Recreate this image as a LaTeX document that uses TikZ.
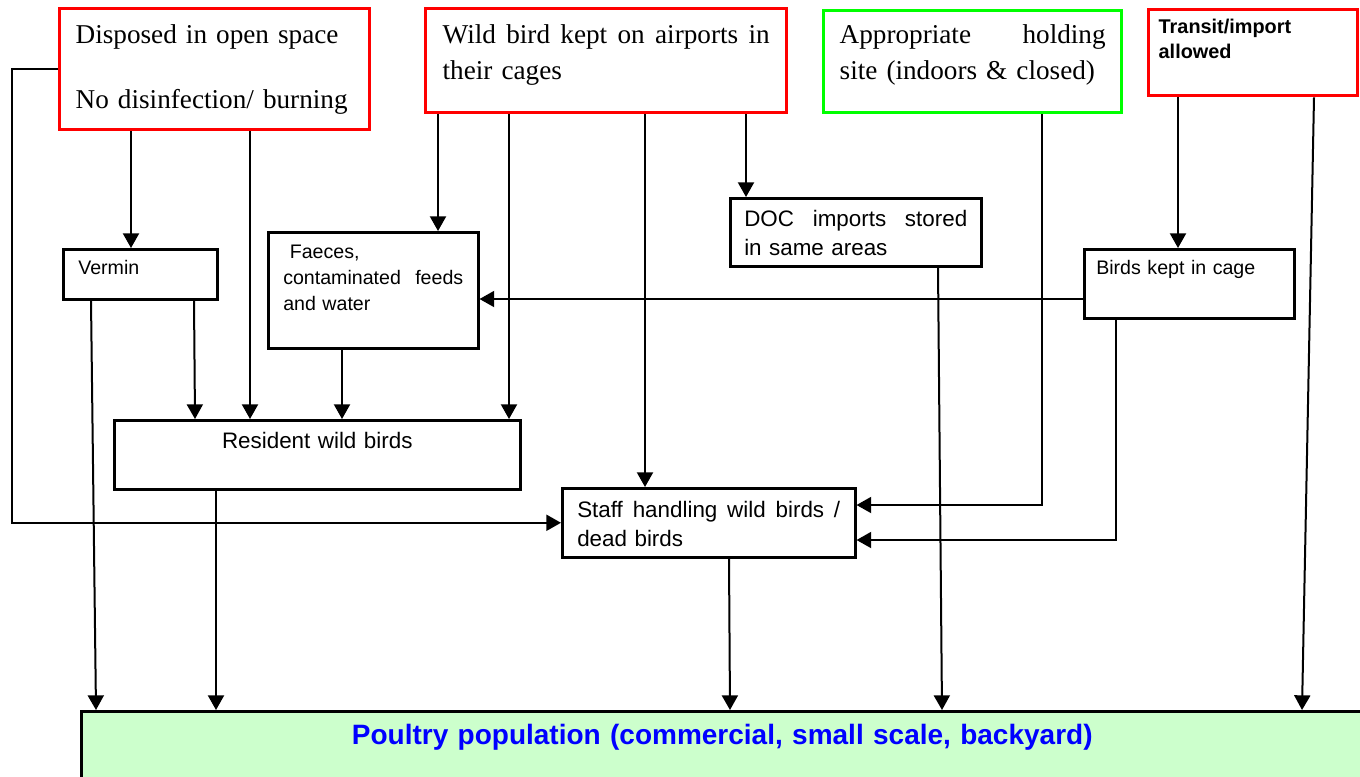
\documentclass[tikz,border=0pt]{standalone}
\usepackage{fontspec}
\setmainfont{Liberation Serif}
\setsansfont{Liberation Sans}
\usepackage{xcolor}
\usetikzlibrary{arrows.meta}

\definecolor{poultrygreen}{HTML}{CCFFCC}
\newcommand{\serifbig}{\rmfamily\fontsize{20.4}{27}\selectfont}
\newcommand{\sansmid}{\sffamily\fontsize{16.8}{22}\selectfont}
\newcommand{\sanssmall}{\sffamily\fontsize{14.7}{19.5}\selectfont}
\newcommand{\sansbold}{\sffamily\bfseries\fontsize{14.9}{18.75}\selectfont}
\newcommand{\sanstitle}{\sffamily\bfseries\fontsize{21}{25}\selectfont}

\begin{document}
\begin{tikzpicture}[x=0.75pt,y=-0.75pt]
\useasboundingbox (0,0) rectangle (1360,776);

\begin{scope}[every node/.style={draw,line width=1.9pt,anchor=north west,inner ysep=0pt,align=left}]
   \node[draw=red,line width=2.5pt,font=\serifbig,inner xsep=12pt,text width=208.5pt,
         text height=26.25pt,text depth=64.5pt] (disposal) at (58,7)
         {Disposed in open space\\[21.75pt]\mbox{No disinfection/ burning}};
   \node[draw=red,line width=2.5pt,font=\serifbig,inner xsep=12.75pt,text width=245.25pt,
         text height=26.25pt,text depth=51.75pt] (airport) at (424,7)
         {Wild\hfill bird\hfill kept\hfill on\hfill airports\hfill in\\their cages};
   \node[draw=green,line width=2.5pt,font=\serifbig,inner xsep=12pt,text width=199.5pt,
         text height=24.75pt,text depth=51.75pt] (holding) at (822,9)
         {Appropriate\hfill holding\\site (indoors \& closed)};
   \node[draw=red,line width=2.5pt,font=\sansbold,inner xsep=7.5pt,text width=141.75pt,
         text height=18pt,text depth=46.5pt] (transit) at (1147,8)
         {Transit/import\\allowed};

   \node[font=\sanssmall,inner xsep=11.25pt,text width=93pt,
         text height=18.75pt,text depth=18.75pt] (vermin) at (62,248) {Vermin};
   \node[font=\sanssmall,inner xsep=11.25pt,text width=135pt,
         text height=19.5pt,text depth=67.5pt] (faeces) at (267,231)
         {\ Faeces,\\contaminated\hfill feeds\\and water};
   \node[font=\sansmid,inner xsep=10.5pt,text width=167.25pt,
         text height=21pt,text depth=30pt] (doc) at (729,197)
         {DOC\hfill imports\hfill stored\\in same areas};
   \node[font=\sanssmall,inner xsep=9pt,text width=139.5pt,
         text height=18.75pt,text depth=33pt] (cage) at (1083,248) {Birds kept in cage};

   \node[font=\sansmid,align=center,inner xsep=0pt,text width=304.5pt,
         text height=21pt,text depth=30.75pt] (resident) at (113,419) {Resident wild birds};
   \node[font=\sansmid,inner xsep=11.25pt,text width=197.25pt,
         text height=21.75pt,text depth=30pt] (staff) at (561,487)
         {Staff\hfill handling\hfill wild\hfill birds\hfill /\\dead birds};

   \node[fill=poultrygreen,text=blue,font=\sanstitle,align=center,inner xsep=0pt,
         text width=961.5pt,text height=24.75pt,text depth=35.25pt] (poultry) at (80,710)
         {Poultry population (commercial, small scale, backyard)};
\end{scope}

\begin{scope}[line width=1.5pt,>={Triangle[length=11pt,width=12pt]},
              every edge/.style={draw}]
   % from the top row
   \path [->] (131,0 |- disposal.south) edge (131,0 |- vermin.north);
   \path [->] (250,0 |- disposal.south) edge (250,0 |- resident.north);
   \draw [->] (disposal.west) -- ++(-46,0) |- (staff.west);

   \path [->] (438,0 |- airport.south) edge (438,0 |- faeces.north);
   \path [->] (509,0 |- airport.south) edge (509,0 |- resident.north);
   \path [->] (645,0 |- airport.south) edge (645,0 |- staff.north);
   \path [->] (746,0 |- airport.south) edge (746,0 |- doc.north);

   \draw [->] (1042,0 |- holding.south) |- (staff.east |- 0,505);

   \path [->] (1178,0 |- transit.south) edge (1178,0 |- cage.north);
   \path [->] (1314,0 |- transit.south) edge (1302,0 |- poultry.north);

   % middle boxes
   \path [->] (cage.west |- 0,299) edge (faeces.east |- 0,299);
   \draw [->] (1116,0 |- cage.south) |- (staff.east |- 0,540);

   \path [->] (194,0 |- vermin.south) edge (195,0 |- resident.north);
   \path [->] (342,0 |- faeces.south) edge (342,0 |- resident.north);

   % down to the poultry
   \path [->] (91,0 |- vermin.south) edge (96,0 |- poultry.north);
   \path [->] (216,0 |- resident.south) edge (216,0 |- poultry.north);
   \path [->] (729,0 |- staff.south) edge (730,0 |- poultry.north);
   \path [->] (938,0 |- doc.south) edge (942,0 |- poultry.north);
\end{scope}
\end{tikzpicture}
\end{document}
